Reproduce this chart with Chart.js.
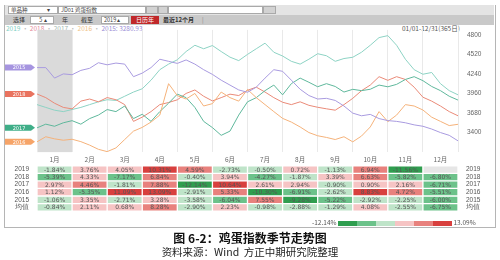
<!DOCTYPE html>
<html>
<head>
<meta charset="utf-8">
<script src="https://cdn.jsdelivr.net/npm/chart.js@4.4.1/dist/chart.umd.min.js"></script>
<style>
  body { margin: 0; width: 500px; height: 260px; background: #fff; position: relative; overflow: hidden;
         font-family: "Noto Sans CJK SC", "Noto Sans", sans-serif; color: #444; }
  .abs { position: absolute; }
  #frame { left: 4px; top: 5px; width: 490px; height: 222px; border: 1px solid #b5b5b5; border-top: none; }
  #bar1 { left: 5px; top: 5px; width: 489px; height: 10px; background: #e4e4e4; }
  #bar2 { left: 5px; top: 15px; width: 489px; height: 10px; background: #c9c9c9; }
  .box { position: absolute; background: #fff; border: 1px solid #a9a9a9; box-sizing: border-box; height: 8px;
         font-size: 5.5px; line-height: 6px; padding-left: 2px; white-space: nowrap; }
  .btn { position: absolute; background: #d2d2d2; border: 1px solid #a9a9a9; box-sizing: border-box; height: 8px; }
  .lbl { position: absolute; font-size: 6px; line-height: 8px; white-space: nowrap; color: #333; }
  #legend { left: 6px; top: 24px; font-size: 6.5px; line-height: 8px; white-space: nowrap; }
  #range { left: 402px; top: 24px; font-size: 6.5px; line-height: 8px; color: #555; }
  #lineCv { left: 0; top: 26px; }
  #heatCv { left: 0; top: 153px; }
  #scale { left: 312px; top: 218px; height: 8px; font-size: 6.5px; line-height: 8px; color: #555; white-space: nowrap; }
  #scale span.sw { display: inline-block; width: 19px; height: 5px; vertical-align: -0.5px; }
  #title { left: 0; top: 230px; width: 500px; text-align: center; font-size: 12px; font-weight: bold; line-height: 15px; color: #111; }
  #source { left: 0; top: 245px; width: 500px; text-align: center; font-size: 10.5px; line-height: 13px; color: #222; }
</style>
</head>
<body>
<div id="frame" class="abs"></div>
<div id="bar1" class="abs">
  <div class="box" style="left:3px;top:1px;width:50px;">单品种 <span style="margin-left:18px">▾</span></div>
  <div class="box" style="left:53px;top:1px;width:88px;">JD01 鸡蛋指数</div>
  <div class="btn" style="left:141px;top:1px;width:12px;"></div>
  <div class="btn" style="left:153px;top:1px;width:10px;"></div>
  <div class="box" style="left:163px;top:1px;width:95px;"></div>
  <div class="btn" style="left:258px;top:1px;width:13px;"></div>
</div>
<div id="bar2" class="abs">
  <div class="lbl" style="left:8px;top:1px;">选择</div>
  <div class="box" style="left:25px;top:1px;width:24px;text-align:center;">5 ▴</div>
  <div class="lbl" style="left:57px;top:1px;">年</div>
  <div class="lbl" style="left:76px;top:1px;">截至</div>
  <div class="box" style="left:96px;top:1px;width:28px;">2019 ▴</div>
  <div class="lbl" style="left:126px;top:1px;width:28px;height:8px;background:#c0282a;color:#fff;text-align:center;">日历年</div>
  <div class="lbl" style="left:158px;top:1px;font-weight:bold;">最近12个月</div>
  <div class="lbl" style="left:197px;top:1px;color:#888;">|</div>
</div>
<div id="legend" class="abs"></div>
<div id="range" class="abs">01/01-12/31(365日)</div>
<canvas id="lineCv" class="abs" width="500" height="130"></canvas>
<canvas id="heatCv" class="abs" width="500" height="62"></canvas>
<div id="scale" class="abs"></div>
<div id="title" class="abs">图 6-2：鸡蛋指数季节走势图</div>
<div id="source" class="abs">资料来源：Wind&nbsp;&nbsp;方正中期研究院整理</div>

<script>
// index values, 4 readings per month (first = 1 Jan)
const YEARS = ['2019', '2018', '2017', '2016', '2015'];
const IDX_2019 = [3800, 3760, 3720, 3700, 3730, 3760, 3800, 3840, 3870, 3860, 3920, 3980, 4027,
  4150, 4300, 4380, 4442, 4560, 4650, 4600, 4646, 4560, 4480, 4430, 4519, 4600, 4680, 4550, 4496,
  4420, 4380, 4450, 4529, 4500, 4420, 4460, 4478, 4550, 4650, 4760, 4788, 4650, 4450, 4300, 4235,
  4260, 4100, 4000, 3940];
const IDX_2018 = [3952, 3900, 3820, 3760, 3739, 3850, 3880, 3840, 3901, 3870, 3800, 3560, 3621,
  3700, 3800, 3830, 3869, 3960, 4010, 3920, 3853, 3900, 3950, 3930, 4005, 4050, 3980, 3900, 3834,
  3800, 3840, 3790, 3762, 3740, 3720, 3800, 3890, 4000, 4080, 4200, 4148, 4200, 4160, 4050, 3906,
  3850, 3780, 3700, 3640];
const IDX_2017 = [3467, 3520, 3490, 3540, 3570, 3520, 3600, 3650, 3729, 3700, 3780, 3600, 3662,
  3560, 3700, 3820, 3950, 3900, 3760, 3560, 3471, 3360, 3420, 3650, 3840, 3900, 4000, 4080, 3940,
  4100, 4180, 4120, 4056, 4100, 4060, 3980, 4019, 4000, 4020, 4080, 4055, 4090, 4160, 4200, 4143,
  4060, 4000, 3920, 3865];
const IDX_2016 = [3267, 3340, 3310, 3290, 3304, 3270, 3220, 3160, 3127, 3180, 3300, 3420, 3474,
  3550, 3650, 4100, 3928, 3880, 3960, 3780, 3814, 3980, 3900, 3850, 4017, 3900, 3800, 3700, 3603,
  3550, 3480, 3400, 3354, 3330, 3300, 3340, 3267, 3350, 3480, 3700, 3556, 3650, 3800, 3780, 3723,
  3620, 3560, 3500, 3518];
const IDX_2015 = [4330, 4330, 4180, 4240, 4228, 4290, 4320, 4400, 4370, 4395, 4380, 4200, 4251,
  4330, 4450, 4420, 4390, 4440, 4380, 4300, 4233, 4150, 4080, 4010, 3977, 4050, 4180, 4300, 4277,
  4150, 4020, 3930, 3880, 3890, 3860, 3780, 3678, 3640, 3660, 3600, 3571, 3560, 3540, 3510, 3490,
  3450, 3400, 3360, 3281];
const LINE_SERIES = [IDX_2019, IDX_2018, IDX_2017, IDX_2016, IDX_2015];
const LINE_COLORS = ['#8dd3c4', '#ea8a78', '#5fb89c', '#f5b27a', '#a99be0'];
const LEGEND_COLORS = ['#7fcfc3', '#e58a9a', '#9fb8b0', '#f0c48a', '#9a8ed6'];
const TAGGED = ['2015', '2018', '2017', '2016'];
const TAG_COLORS = { '2015': '#a695e0', '2018': '#e9735f', '2017': '#3fae88', '2016': '#f6a468' };
const Y_TICKS = [3400, 3680, 3960, 4240, 4520, 4800];
const LAST_2015 = '3280.93';

// monthly returns (%)
const MONTHS = ['1月', '2月', '3月', '4月', '5月', '6月', '7月', '8月', '9月', '10月', '11月', '12月'];
const ROWS = ['2019', '2018', '2017', '2016', '2015', '均值'];
const RET_2019 = [-1.84, 3.76, 4.05, 10.31, 4.59, -2.73, -0.50, 0.72, -1.13, 6.94, -11.56, null];
const RET_2018 = [-5.39, 4.33, -7.17, 6.84, -0.40, 3.94, -4.27, -1.87, 3.39, 6.63, -5.82, -6.80];
const RET_2017 = [2.97, 4.46, -1.81, 7.88, -12.14, 10.64, 2.61, 2.94, -0.90, 0.90, 2.16, -6.71];
const RET_2016 = [1.12, -5.35, 11.09, 13.09, -2.91, 5.33, -10.30, -6.91, -2.62, 8.83, 4.72, -5.51];
const RET_2015 = [-1.06, 3.35, -2.71, 3.28, -3.58, -6.04, 7.55, -9.28, -5.22, -2.92, -2.25, -6.00];
const RET_MEAN = [-0.84, 2.11, 0.68, 8.28, -2.90, 2.23, -0.98, -2.88, -1.29, 4.08, -2.55, -6.75];
const RET_ROWS = [RET_2019, RET_2018, RET_2017, RET_2016, RET_2015, RET_MEAN];
const RET_MIN = '-12.14%';
const RET_MAX = '13.09%';
const HEAT_COLORS = ['#2f9e4f', '#6cc28a', '#bfe4c9', '#f6c4c4', '#e8817d', '#d8403e'];

function cellColor(v) {
  if (v === null) return '#e6e6e6';
  if (v < -8) return HEAT_COLORS[0];
  if (v < -4) return HEAT_COLORS[1];
  if (v < 0) return HEAT_COLORS[2];
  if (v < 4.4) return HEAT_COLORS[3];
  if (v < 8.7) return HEAT_COLORS[4];
  return HEAT_COLORS[5];
}

// legend text + colour scale
document.getElementById('legend').innerHTML = YEARS.map((y, i) =>
  `<span style="color:${LEGEND_COLORS[i]}">${y}${y === '2015' ? ': ' + LAST_2015 : ''}</span>`
).join('<span style="color:#bbb"> · </span>');
document.getElementById('scale').innerHTML = `${RET_MIN} ` +
  HEAT_COLORS.map(c => `<span class="sw" style="background:${c}"></span>`).join('') + ` ${RET_MAX}`;

const janBand = {
  id: 'janBand',
  beforeDraw(chart) {
    const { ctx, chartArea, scales } = chart;
    const x0 = scales.x.getPixelForValue(0), x1 = scales.x.getPixelForValue(1);
    ctx.save();
    ctx.fillStyle = '#dadada';
    ctx.fillRect(x0, chartArea.top, x1 - x0, chartArea.bottom - chartArea.top);
    ctx.restore();
  }
};

const startTags = {
  id: 'startTags',
  afterDatasetsDraw(chart) {
    const { ctx, scales } = chart;
    ctx.save();
    ctx.font = '5px "DejaVu Sans", sans-serif';
    ctx.textAlign = 'center';
    ctx.textBaseline = 'middle';
    TAGGED.forEach(year => {
      const y = scales.y.getPixelForValue(LINE_SERIES[YEARS.indexOf(year)][0]);
      ctx.fillStyle = TAG_COLORS[year];
      ctx.beginPath();
      ctx.moveTo(5, y - 3);
      ctx.lineTo(31, y - 3);
      ctx.lineTo(35, y);
      ctx.lineTo(31, y + 3);
      ctx.lineTo(5, y + 3);
      ctx.closePath();
      ctx.fill();
      ctx.fillStyle = '#fff';
      ctx.fillText(year, 19, y + 0.5);
    });
    ctx.restore();
  }
};

new Chart(document.getElementById('lineCv'), {
  type: 'line',
  data: {
    datasets: YEARS.map((y, i) => ({
      label: y,
      data: LINE_SERIES[i].map((v, k) => ({ x: k / 4, y: v })),
      borderColor: LINE_COLORS[i],
      borderWidth: 1,
      pointRadius: 0,
      tension: 0
    })).reverse()
  },
  options: {
    responsive: false,
    animation: false,
    layout: { padding: { left: 37, top: 0, bottom: 0 } },
    plugins: { legend: { display: false }, tooltip: { enabled: false } },
    scales: {
      x: {
        type: 'linear', min: 0, max: 12,
        afterFit: s => { s.height = 0; },
        ticks: { display: false, stepSize: 1 },
        grid: { color: '#e9e9e9', drawTicks: false },
        border: { display: false }
      },
      y: {
        position: 'right', min: 3120, max: 4870,
        afterBuildTicks: s => { s.ticks = Y_TICKS.map(v => ({ value: v })); },
        afterFit: s => { s.width = 42; },
        ticks: { color: '#666', font: { size: 6.5 }, padding: 0, callback: v => String(v) },
        grid: { display: false, drawTicks: true, tickLength: 9 },
        border: { display: false }
      }
    }
  },
  plugins: [janBand, startTags]
});

const cellText = {
  id: 'cellText',
  afterDatasetsDraw(chart) {
    const { ctx } = chart;
    ctx.save();
    ctx.font = '6px "DejaVu Sans", sans-serif';
    ctx.fillStyle = '#555';
    ctx.textAlign = 'center';
    ctx.textBaseline = 'middle';
    chart.data.datasets.forEach((ds, r) => {
      chart.getDatasetMeta(r).data.forEach((el, m) => {
        const v = RET_ROWS[r][m];
        if (v === null) return;
        ctx.fillText(v.toFixed(2) + '%', el.x, (el.y + el.base) / 2 + 0.5);
      });
    });
    ctx.restore();
  }
};

const rowAxis = (pos, width) => ({
  position: pos, min: 0, max: 6, reverse: true,
  afterBuildTicks: s => { s.ticks = ROWS.map((_, i) => ({ value: i + 0.5 })); },
  afterFit: s => { s.width = width; },
  ticks: { callback: v => ROWS[Math.floor(v)], color: '#555', font: { size: 6.5 },
           crossAlign: 'center', padding: 0, autoSkip: false },
  grid: { display: false },
  border: { display: false }
});

new Chart(document.getElementById('heatCv'), {
  type: 'bar',
  data: {
    labels: MONTHS,
    datasets: RET_ROWS.map((row, r) => ({
      label: ROWS[r],
      data: row.map(() => [r, r + 1]),
      backgroundColor: row.map(cellColor),
      borderColor: '#fff',
      borderWidth: 1,
      borderSkipped: false,
      grouped: false,
      barPercentage: 1,
      categoryPercentage: 1,
      yAxisID: 'y'
    }))
  },
  options: {
    responsive: false,
    animation: false,
    plugins: { legend: { display: false }, tooltip: { enabled: false } },
    scales: {
      x: {
        position: 'top',
        ticks: { color: '#666', font: { size: 6.5, family: '"Noto Sans CJK SC", sans-serif' },
                 padding: 2.5, autoSkip: false, maxRotation: 0 },
        grid: { display: false, drawTicks: false },
        border: { display: false }
      },
      y: rowAxis('left', 37),
      y2: rowAxis('right', 42)
    }
  },
  plugins: [cellText]
});
</script>
</body>
</html>
